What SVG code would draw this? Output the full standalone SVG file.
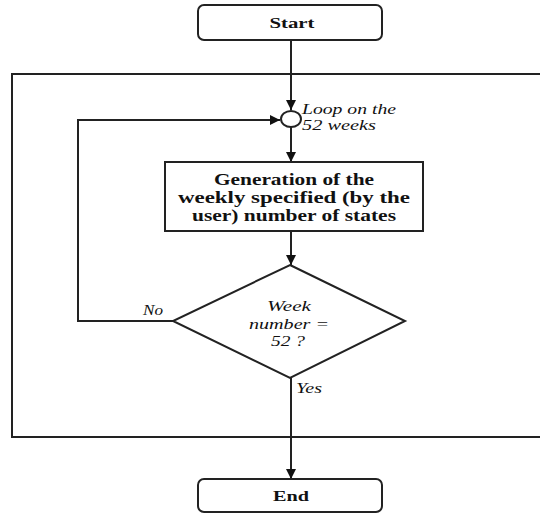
<svg xmlns="http://www.w3.org/2000/svg" width="540" height="514" viewBox="0 0 540 514">
  <defs>
    <marker id="arr" viewBox="0 0 10 10" refX="10" refY="5" markerWidth="10" markerHeight="10" markerUnits="userSpaceOnUse" orient="auto">
      <path d="M0,0 L10,5 L0,10 Z" fill="#111"/>
    </marker>
    <style>
      .ln { stroke: #222; stroke-width: 2; fill: none; }
      .box { stroke: #222; stroke-width: 2; fill: #fff; }
      .b { font-family: "Liberation Serif", "Times New Roman", serif; font-weight: bold; fill: #111; text-anchor: middle; }
      .i { font-family: "Liberation Serif", "Times New Roman", serif; font-style: italic; fill: #111; font-size: 14px; }
    </style>
  </defs>
  <rect width="540" height="514" fill="#fff"/>
  <g id="frame">
    <path class="ln" d="M545,74 L12,74 L12,437 L545,437"/>
  </g>
  <g id="connectors">
    <line class="ln" x1="291" y1="40" x2="291" y2="110" marker-end="url(#arr)"/>
    <line class="ln" x1="291" y1="127" x2="291" y2="162" marker-end="url(#arr)"/>
    <line class="ln" x1="291" y1="231" x2="291" y2="265" marker-end="url(#arr)"/>
    <line class="ln" x1="291" y1="378" x2="291" y2="479" marker-end="url(#arr)"/>
    <polyline class="ln" points="173,321 78,321 78,120 280,120" marker-end="url(#arr)"/>
    <text class="i" x="143" y="315" textLength="20" lengthAdjust="spacingAndGlyphs">No</text>
    <text class="i" x="296" y="393" textLength="26" lengthAdjust="spacingAndGlyphs">Yes</text>
  </g>
  <g id="start">
    <rect class="box" x="198" y="5" width="184" height="35" rx="6"/>
    <text class="b" x="292" y="28" font-size="15" textLength="45" lengthAdjust="spacingAndGlyphs">Start</text>
  </g>
  <g id="loop">
    <ellipse class="box" cx="291" cy="119" rx="10" ry="8"/>
    <text class="i" x="302" y="114" textLength="94" lengthAdjust="spacingAndGlyphs">Loop on the</text>
    <text class="i" x="302" y="130" textLength="74" lengthAdjust="spacingAndGlyphs">52  weeks</text>
  </g>
  <g id="generate">
    <rect class="box" x="165" y="162" width="258" height="69"/>
    <text class="b" x="294" y="185" font-size="16" textLength="160" lengthAdjust="spacingAndGlyphs">Generation of the</text>
    <text class="b" x="294" y="203" font-size="16" textLength="232" lengthAdjust="spacingAndGlyphs">weekly specified (by the</text>
    <text class="b" x="294" y="221" font-size="16" textLength="204" lengthAdjust="spacingAndGlyphs">user) number of states</text>
  </g>
  <g id="decision">
    <polygon class="box" points="290,265 405,321 290,378 173,321"/>
    <text class="i" x="289" y="311" text-anchor="middle" textLength="44" lengthAdjust="spacingAndGlyphs">Week</text>
    <text class="i" x="289" y="329" text-anchor="middle" textLength="80" lengthAdjust="spacingAndGlyphs">number =</text>
    <text class="i" x="288" y="346" text-anchor="middle" textLength="34" lengthAdjust="spacingAndGlyphs">52 ?</text>
  </g>
  <g id="end">
    <rect class="box" x="198" y="479" width="184" height="33" rx="6"/>
    <text class="b" x="291" y="501" font-size="15" textLength="36" lengthAdjust="spacingAndGlyphs">End</text>
  </g>
</svg>
